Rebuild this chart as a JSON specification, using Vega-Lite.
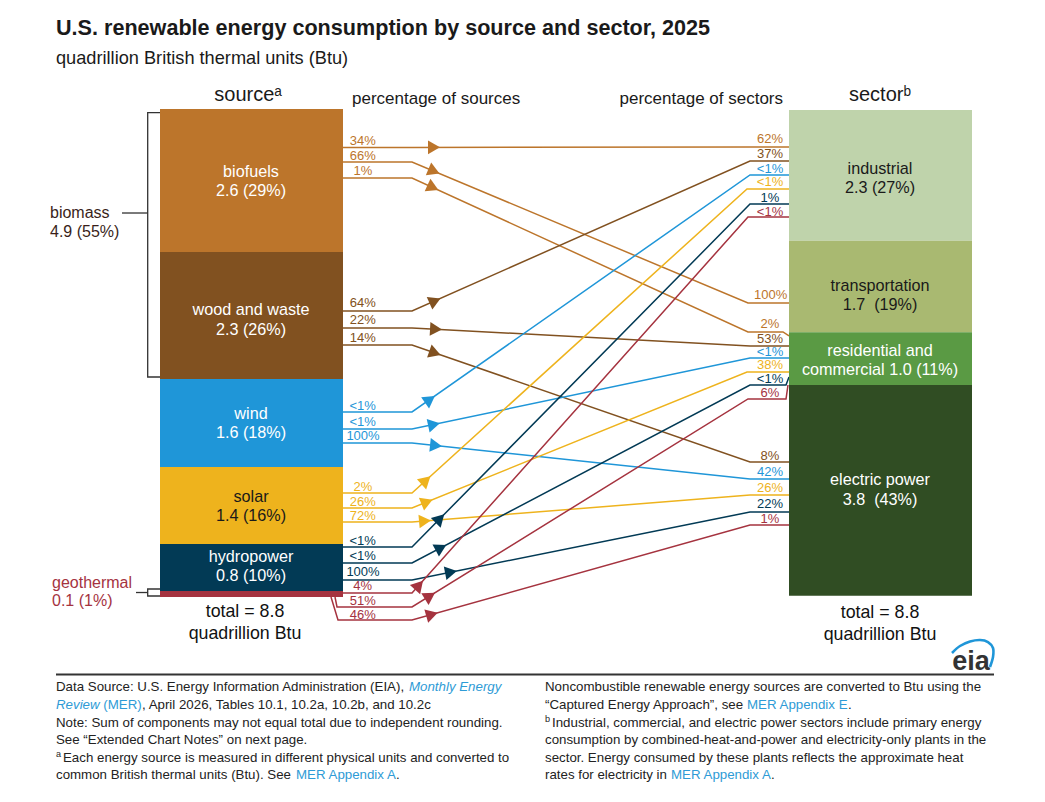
{
  "$schema": "https://vega.github.io/schema/vega-lite/v6.json",
  "description": "U.S. renewable energy consumption by source and sector, 2025. Bars and flow lines are in quadrillion Btu, measured from the top of the source bar.",
  "autosize": {"type": "none"},
  "padding": {"top": 80, "left": 0, "right": 0, "bottom": 0},
  "width": 1045,
  "height": 722,
  "background": "white",
  "title": {
    "text": "U.S. renewable energy consumption by source and sector, 2025",
    "subtitle": "quadrillion British thermal units (Btu)",
    "anchor": "start",
    "frame": "group",
    "dx": 56,
    "offset": 13,
    "fontSize": 21.6,
    "fontWeight": "bold",
    "color": "#1a1a1a",
    "subtitleFontSize": 18.2,
    "subtitleColor": "#1a1a1a",
    "subtitlePadding": 10
  },
  "config": {
    "font": "Liberation Sans",
    "view": {"stroke": null},
    "legend": {"disable": true}
  },
  "datasets": {
    "bars": [
      {"name": "biofuels", "pos": 16.0, "pos_end": 34.3, "btu": 0, "btu_end": 2.577},
      {"name": "wood and waste", "pos": 16.0, "pos_end": 34.3, "btu": 2.577, "btu_end": 4.865},
      {"name": "wind", "pos": 16.0, "pos_end": 34.3, "btu": 4.865, "btu_end": 6.45},
      {"name": "solar", "pos": 16.0, "pos_end": 34.3, "btu": 6.45, "btu_end": 7.838},
      {"name": "hydropower", "pos": 16.0, "pos_end": 34.3, "btu": 7.838, "btu_end": 8.685},
      {"name": "geothermal", "pos": 16.0, "pos_end": 34.3, "btu": 8.685, "btu_end": 8.793},
      {"name": "industrial", "pos": 78.9, "pos_end": 97.2, "btu": 0.018, "btu_end": 2.373},
      {"name": "transportation", "pos": 78.9, "pos_end": 97.2, "btu": 2.373, "btu_end": 4.024},
      {"name": "residential and commercial", "pos": 78.9, "pos_end": 97.2, "btu": 4.024, "btu_end": 4.973},
      {"name": "electric power", "pos": 78.9, "pos_end": 97.2, "btu": 4.973, "btu_end": 8.769}
    ],
    "bar_labels": [
      {"name": "biofuels", "label": "biofuels\n2.6 (29%)", "pos": 25.1, "btu": 1.135},
      {"name": "wood and waste", "label": "wood and waste\n2.3 (26%)", "pos": 25.1, "btu": 3.622},
      {"name": "wind", "label": "wind\n1.6 (18%)", "pos": 25.1, "btu": 5.495},
      {"name": "solar", "label": "solar\n1.4 (16%)", "pos": 25.1, "btu": 6.991},
      {"name": "hydropower", "label": "hydropower\n0.8 (10%)", "pos": 25.1, "btu": 8.072},
      {"name": "industrial", "label": "industrial\n2.3 (27%)", "pos": 88.0, "btu": 1.081},
      {"name": "transportation", "label": "transportation\n1.7\u00a0\u00a0(19%)", "pos": 88.0, "btu": 3.189},
      {"name": "residential and commercial", "label": "residential and\ncommercial 1.0 (11%)", "pos": 88.0, "btu": 4.36},
      {"name": "electric power", "label": "electric power\n3.8\u00a0\u00a0(43%)", "pos": 88.0, "btu": 6.685}
    ],
    "flows": [
      {"source": "biofuels", "sector": "industrial", "pos": 34.3, "btu": 0.694},
      {"source": "biofuels", "sector": "industrial", "pos": 41.2, "btu": 0.694},
      {"source": "biofuels", "sector": "industrial", "pos": 75.0, "btu": 0.685},
      {"source": "biofuels", "sector": "industrial", "pos": 78.9, "btu": 0.685},
      {"source": "biofuels", "sector": "transportation", "pos": 34.3, "btu": 0.955},
      {"source": "biofuels", "sector": "transportation", "pos": 41.2, "btu": 0.955},
      {"source": "biofuels", "sector": "transportation", "pos": 74.8, "btu": 3.495},
      {"source": "biofuels", "sector": "transportation", "pos": 78.9, "btu": 3.495},
      {"source": "biofuels", "sector": "residential", "pos": 34.3, "btu": 1.243},
      {"source": "biofuels", "sector": "residential", "pos": 41.2, "btu": 1.243},
      {"source": "biofuels", "sector": "residential", "pos": 74.8, "btu": 4.018},
      {"source": "biofuels", "sector": "residential", "pos": 78.3, "btu": 4.018},
      {"source": "biofuels", "sector": "residential", "pos": 78.9, "btu": 4.09},
      {"source": "wood and waste", "sector": "industrial", "pos": 34.3, "btu": 3.64},
      {"source": "wood and waste", "sector": "industrial", "pos": 41.2, "btu": 3.64},
      {"source": "wood and waste", "sector": "industrial", "pos": 75.0, "btu": 0.937},
      {"source": "wood and waste", "sector": "industrial", "pos": 78.9, "btu": 0.937},
      {"source": "wood and waste", "sector": "residential", "pos": 34.3, "btu": 3.946},
      {"source": "wood and waste", "sector": "residential", "pos": 41.2, "btu": 3.946},
      {"source": "wood and waste", "sector": "residential", "pos": 75.0, "btu": 4.27},
      {"source": "wood and waste", "sector": "residential", "pos": 78.9, "btu": 4.27},
      {"source": "wood and waste", "sector": "electric", "pos": 34.3, "btu": 4.252},
      {"source": "wood and waste", "sector": "electric", "pos": 41.2, "btu": 4.252},
      {"source": "wood and waste", "sector": "electric", "pos": 75.0, "btu": 6.36},
      {"source": "wood and waste", "sector": "electric", "pos": 78.9, "btu": 6.36},
      {"source": "wind", "sector": "industrial", "pos": 34.3, "btu": 5.459},
      {"source": "wind", "sector": "industrial", "pos": 41.2, "btu": 5.459},
      {"source": "wind", "sector": "industrial", "pos": 75.0, "btu": 1.189},
      {"source": "wind", "sector": "industrial", "pos": 78.9, "btu": 1.189},
      {"source": "wind", "sector": "residential", "pos": 34.3, "btu": 5.766},
      {"source": "wind", "sector": "residential", "pos": 41.2, "btu": 5.766},
      {"source": "wind", "sector": "residential", "pos": 75.0, "btu": 4.486},
      {"source": "wind", "sector": "residential", "pos": 78.9, "btu": 4.486},
      {"source": "wind", "sector": "electric", "pos": 34.3, "btu": 6.018},
      {"source": "wind", "sector": "electric", "pos": 41.2, "btu": 6.018},
      {"source": "wind", "sector": "electric", "pos": 75.0, "btu": 6.667},
      {"source": "wind", "sector": "electric", "pos": 78.9, "btu": 6.667},
      {"source": "solar", "sector": "industrial", "pos": 34.3, "btu": 6.919},
      {"source": "solar", "sector": "industrial", "pos": 41.2, "btu": 6.919},
      {"source": "solar", "sector": "industrial", "pos": 74.7, "btu": 1.441},
      {"source": "solar", "sector": "industrial", "pos": 78.9, "btu": 1.441},
      {"source": "solar", "sector": "residential", "pos": 34.3, "btu": 7.189},
      {"source": "solar", "sector": "residential", "pos": 41.2, "btu": 7.189},
      {"source": "solar", "sector": "residential", "pos": 74.7, "btu": 4.739},
      {"source": "solar", "sector": "residential", "pos": 78.9, "btu": 4.739},
      {"source": "solar", "sector": "electric", "pos": 34.3, "btu": 7.441},
      {"source": "solar", "sector": "electric", "pos": 41.2, "btu": 7.441},
      {"source": "solar", "sector": "electric", "pos": 75.0, "btu": 6.955},
      {"source": "solar", "sector": "electric", "pos": 78.9, "btu": 6.955},
      {"source": "hydropower", "sector": "industrial", "pos": 34.3, "btu": 7.892},
      {"source": "hydropower", "sector": "industrial", "pos": 41.2, "btu": 7.892},
      {"source": "hydropower", "sector": "industrial", "pos": 75.0, "btu": 1.712},
      {"source": "hydropower", "sector": "industrial", "pos": 78.9, "btu": 1.712},
      {"source": "hydropower", "sector": "residential", "pos": 34.3, "btu": 8.18},
      {"source": "hydropower", "sector": "residential", "pos": 41.2, "btu": 8.18},
      {"source": "hydropower", "sector": "residential", "pos": 75.0, "btu": 4.973},
      {"source": "hydropower", "sector": "residential", "pos": 78.6, "btu": 4.973},
      {"source": "hydropower", "sector": "residential", "pos": 78.9, "btu": 4.829},
      {"source": "hydropower", "sector": "electric", "pos": 34.3, "btu": 8.486},
      {"source": "hydropower", "sector": "electric", "pos": 41.2, "btu": 8.486},
      {"source": "hydropower", "sector": "electric", "pos": 75.0, "btu": 7.261},
      {"source": "hydropower", "sector": "electric", "pos": 78.9, "btu": 7.261},
      {"source": "geothermal", "sector": "industrial", "pos": 34.3, "btu": 8.721},
      {"source": "geothermal", "sector": "industrial", "pos": 41.2, "btu": 8.721},
      {"source": "geothermal", "sector": "industrial", "pos": 74.8, "btu": 1.946},
      {"source": "geothermal", "sector": "industrial", "pos": 78.9, "btu": 1.946},
      {"source": "geothermal", "sector": "residential", "pos": 33.5, "btu": 8.793},
      {"source": "geothermal", "sector": "residential", "pos": 33.7, "btu": 8.973},
      {"source": "geothermal", "sector": "residential", "pos": 41.2, "btu": 8.973},
      {"source": "geothermal", "sector": "residential", "pos": 74.8, "btu": 5.225},
      {"source": "geothermal", "sector": "residential", "pos": 78.6, "btu": 5.225},
      {"source": "geothermal", "sector": "residential", "pos": 78.8, "btu": 4.973},
      {"source": "geothermal", "sector": "electric", "pos": 33.1, "btu": 8.793},
      {"source": "geothermal", "sector": "electric", "pos": 33.8, "btu": 9.207},
      {"source": "geothermal", "sector": "electric", "pos": 41.2, "btu": 9.207},
      {"source": "geothermal", "sector": "electric", "pos": 75.0, "btu": 7.495},
      {"source": "geothermal", "sector": "electric", "pos": 78.9, "btu": 7.495}
    ],
    "arrows": [
      {"source": "biofuels", "sector": "industrial", "pos": 43.4, "btu": 0.69, "heading": 0},
      {"source": "biofuels", "sector": "transportation", "pos": 43.4, "btu": 1.121, "heading": 22.8},
      {"source": "biofuels", "sector": "residential", "pos": 43.3, "btu": 1.416, "heading": 24.6},
      {"source": "wood and waste", "sector": "industrial", "pos": 43.5, "btu": 3.456, "heading": 336},
      {"source": "wood and waste", "sector": "residential", "pos": 43.6, "btu": 3.969, "heading": 3},
      {"source": "wood and waste", "sector": "electric", "pos": 43.5, "btu": 4.396, "heading": 19.1},
      {"source": "wind", "sector": "industrial", "pos": 43.0, "btu": 5.232, "heading": 325},
      {"source": "wind", "sector": "residential", "pos": 43.4, "btu": 5.683, "heading": 348},
      {"source": "wind", "sector": "electric", "pos": 43.6, "btu": 6.065, "heading": 6.1},
      {"source": "solar", "sector": "industrial", "pos": 42.6, "btu": 6.69, "heading": 318},
      {"source": "solar", "sector": "residential", "pos": 42.7, "btu": 7.079, "heading": 338},
      {"source": "solar", "sector": "electric", "pos": 42.5, "btu": 7.423, "heading": 355},
      {"source": "hydropower", "sector": "industrial", "pos": 44.0, "btu": 7.38, "heading": 315},
      {"source": "hydropower", "sector": "residential", "pos": 44.1, "btu": 7.905, "heading": 332},
      {"source": "hydropower", "sector": "electric", "pos": 45.1, "btu": 8.346, "heading": 349},
      {"source": "geothermal", "sector": "industrial", "pos": 41.9, "btu": 8.58, "heading": 312},
      {"source": "geothermal", "sector": "residential", "pos": 43.0, "btu": 8.773, "heading": 328},
      {"source": "geothermal", "sector": "electric", "pos": 43.2, "btu": 9.106, "heading": 344}
    ],
    "shares": [
      {"source": "biofuels", "share": "34%", "pos": 36.27, "btu": 0.568},
      {"source": "biofuels", "share": "66%", "pos": 36.27, "btu": 0.847},
      {"source": "biofuels", "share": "1%", "pos": 36.3, "btu": 1.117},
      {"source": "wood and waste", "share": "64%", "pos": 36.27, "btu": 3.495},
      {"source": "wood and waste", "share": "22%", "pos": 36.27, "btu": 3.802},
      {"source": "wood and waste", "share": "14%", "pos": 36.27, "btu": 4.126},
      {"source": "wind", "share": "<1%", "pos": 36.27, "btu": 5.346},
      {"source": "wind", "share": "<1%", "pos": 36.27, "btu": 5.634},
      {"source": "wind", "share": "100%", "pos": 36.3, "btu": 5.892},
      {"source": "solar", "share": "2%", "pos": 36.3, "btu": 6.811},
      {"source": "solar", "share": "26%", "pos": 36.27, "btu": 7.076},
      {"source": "solar", "share": "72%", "pos": 36.27, "btu": 7.333},
      {"source": "hydropower", "share": "<1%", "pos": 36.27, "btu": 7.778},
      {"source": "hydropower", "share": "<1%", "pos": 36.27, "btu": 8.054},
      {"source": "hydropower", "share": "100%", "pos": 36.3, "btu": 8.342},
      {"source": "geothermal", "share": "4%", "pos": 36.27, "btu": 8.595},
      {"source": "geothermal", "share": "51%", "pos": 36.27, "btu": 8.868},
      {"source": "geothermal", "share": "46%", "pos": 36.27, "btu": 9.117},
      {"source": "biofuels", "share": "62%", "pos": 77.0, "btu": 0.541},
      {"source": "wood and waste", "share": "37%", "pos": 77.0, "btu": 0.811},
      {"source": "wind", "share": "<1%", "pos": 77.0, "btu": 1.081},
      {"source": "solar", "share": "<1%", "pos": 77.0, "btu": 1.315},
      {"source": "hydropower", "share": "1%", "pos": 77.0, "btu": 1.598},
      {"source": "geothermal", "share": "<1%", "pos": 77.0, "btu": 1.85},
      {"source": "biofuels", "share": "100%", "pos": 77.07, "btu": 3.357},
      {"source": "biofuels", "share": "2%", "pos": 77.0, "btu": 3.874},
      {"source": "wood and waste", "share": "53%", "pos": 77.0, "btu": 4.144},
      {"source": "wind", "share": "<1%", "pos": 77.0, "btu": 4.378},
      {"source": "solar", "share": "38%", "pos": 77.0, "btu": 4.613},
      {"source": "hydropower", "share": "<1%", "pos": 77.0, "btu": 4.865},
      {"source": "geothermal", "share": "6%", "pos": 77.0, "btu": 5.117},
      {"source": "wood and waste", "share": "8%", "pos": 77.0, "btu": 6.252},
      {"source": "wind", "share": "42%", "pos": 77.0, "btu": 6.541},
      {"source": "solar", "share": "26%", "pos": 77.0, "btu": 6.829},
      {"source": "hydropower", "share": "22%", "pos": 77.0, "btu": 7.117},
      {"source": "geothermal", "share": "1%", "pos": 77.0, "btu": 7.382}
    ],
    "brackets": [
      {"part": "biomass", "step": 1, "pos": 16.0, "btu": 0.067},
      {"part": "biomass", "step": 2, "pos": 14.77, "btu": 0.067},
      {"part": "biomass", "step": 3, "pos": 14.77, "btu": 4.829},
      {"part": "biomass", "step": 4, "pos": 16.0, "btu": 4.829},
      {"part": "biomass leader", "step": 1, "pos": 12.2, "btu": 1.874},
      {"part": "biomass leader", "step": 2, "pos": 14.77, "btu": 1.874},
      {"part": "geothermal", "step": 1, "pos": 16.0, "btu": 8.649},
      {"part": "geothermal", "step": 2, "pos": 14.77, "btu": 8.649},
      {"part": "geothermal", "step": 3, "pos": 14.77, "btu": 8.775},
      {"part": "geothermal", "step": 4, "pos": 16.0, "btu": 8.775},
      {"part": "geothermal leader", "step": 1, "pos": 13.6, "btu": 8.712},
      {"part": "geothermal leader", "step": 2, "pos": 14.77, "btu": 8.712}
    ],
    "footer_rule": [
      {"pos": 5.6, "btu": 10.189},
      {"pos": 99.4, "btu": 10.189}
    ],
    "logo_arc": [
      {"step": 1, "pos": 95.2, "btu": 9.802},
      {"step": 2, "pos": 96.0, "btu": 9.676},
      {"step": 3, "pos": 97.0, "btu": 9.595},
      {"step": 4, "pos": 98.0, "btu": 9.568},
      {"step": 5, "pos": 98.8, "btu": 9.604},
      {"step": 6, "pos": 99.3, "btu": 9.712},
      {"step": 7, "pos": 99.3, "btu": 9.874},
      {"step": 8, "pos": 99.0, "btu": 10.054}
    ],
    "heads": [
      {"label": "percentage of sources", "pos": 35.2, "btu": -0.18, "side": "source"},
      {"label": "percentage of sectors", "pos": 78.3, "btu": -0.18, "side": "sector"}
    ],
    "notes": [
      {"note": "Data Source: U.S. Energy Information Administration (EIA),", "kind": "plain", "pos": 5.6, "btu": 10.414},
      {"note": "Monthly Energy", "kind": "italic", "pos": 40.9, "btu": 10.414},
      {"note": "Review", "kind": "italic", "pos": 5.6, "btu": 10.739},
      {"note": "(MER)", "kind": "link", "pos": 10.33, "btu": 10.739},
      {"note": ", April 2026, Tables 10.1, 10.2a, 10.2b, and 10.2c", "kind": "plain", "pos": 14.2, "btu": 10.739},
      {"note": "Note: Sum of components may not equal total due to independent rounding.", "kind": "plain", "pos": 5.6, "btu": 11.063},
      {"note": "See “Extended Chart Notes” on next page.", "kind": "plain", "pos": 5.6, "btu": 11.369},
      {"note": "ᵃ", "kind": "plain", "pos": 5.6, "btu": 11.65},
      {"note": "Each energy source is measured in different physical units and converted to", "kind": "plain", "pos": 6.3, "btu": 11.694},
      {"note": "common British thermal units (Btu). See", "kind": "plain", "pos": 5.6, "btu": 12.0},
      {"note": "MER Appendix A", "kind": "link", "pos": 29.6, "btu": 12.0},
      {"note": ".", "kind": "plain", "pos": 39.6, "btu": 12.0},
      {"note": "Noncombustible renewable energy sources are converted to Btu using the", "kind": "plain", "pos": 54.5, "btu": 10.414},
      {"note": "“Captured Energy Approach”, see", "kind": "plain", "pos": 54.5, "btu": 10.739},
      {"note": "MER Appendix E", "kind": "link", "pos": 74.7, "btu": 10.739},
      {"note": ".", "kind": "plain", "pos": 84.8, "btu": 10.739},
      {"note": "ᵇ", "kind": "plain", "pos": 54.5, "btu": 11.02},
      {"note": "Industrial, commercial, and electric power sectors include primary energy", "kind": "plain", "pos": 55.2, "btu": 11.063},
      {"note": "consumption by combined-heat-and-power and electricity-only plants in the", "kind": "plain", "pos": 54.5, "btu": 11.369},
      {"note": "sector. Energy consumed by these plants reflects the approximate heat", "kind": "plain", "pos": 54.5, "btu": 11.694},
      {"note": "rates for electricity in", "kind": "plain", "pos": 54.5, "btu": 12.0},
      {"note": "MER Appendix A", "kind": "link", "pos": 67.1, "btu": 12.0},
      {"note": ".", "kind": "plain", "pos": 77.1, "btu": 12.0}
    ]
  },
  "encoding": {
    "x": {"field": "pos", "type": "quantitative", "axis": null, "scale": {"domain": [0, 104.5], "nice": false, "zero": false}},
    "y": {"field": "btu", "type": "quantitative", "axis": null, "scale": {"domain": [-0.5225, 12.4865], "reverse": true, "nice": false, "zero": false}}
  },
  "layer": [
    {
      "data": {"name": "flows"},
      "mark": {"type": "line", "strokeWidth": 1.5, "clip": false},
      "encoding": {
        "detail": [{"field": "source"}, {"field": "sector"}],
        "color": {
          "field": "source",
          "type": "nominal",
          "scale": {
            "domain": ["biofuels", "wood and waste", "wind", "solar", "hydropower", "geothermal", "industrial", "transportation", "residential and commercial", "electric power"],
            "range": ["#BC752B", "#815120", "#1F96D8", "#EEB31D", "#023A55", "#A5333F", "#BFD3AB", "#A9B971", "#5A9A44", "#304D23"]
          }
        }
      }
    },
    {
      "data": {"name": "arrows"},
      "mark": {"type": "point", "shape": "triangle-right", "filled": true, "size": 190, "opacity": 1},
      "encoding": {
        "color": {"field": "source", "type": "nominal"},
        "angle": {"field": "heading", "type": "quantitative", "scale": null}
      }
    },
    {
      "data": {"name": "bars"},
      "mark": {"type": "rect"},
      "encoding": {
        "x2": {"field": "pos_end"},
        "y2": {"field": "btu_end"},
        "color": {"field": "name", "type": "nominal"}
      }
    },
    {
      "data": {"name": "brackets"},
      "mark": {"type": "line", "color": "#333333", "strokeWidth": 1.3},
      "encoding": {
        "detail": {"field": "part"},
        "order": {"field": "step"}
      }
    },
    {
      "data": {"name": "footer_rule"},
      "mark": {"type": "line", "color": "#333333", "strokeWidth": 2}
    },
    {
      "data": {"name": "logo_arc"},
      "mark": {"type": "line", "color": "#1F96D8", "strokeWidth": 2.6, "interpolate": "cardinal"},
      "encoding": {"order": {"field": "step"}}
    },
    {
      "data": {"values": [{"label": "eia", "pos": 97.1, "btu": 9.964}]},
      "mark": {"type": "text", "fontSize": 27, "fontWeight": "bold", "color": "#333333", "baseline": "middle"},
      "encoding": {"text": {"field": "label"}}
    },
    {
      "data": {"name": "bar_labels"},
      "mark": {"type": "text", "fontSize": 16.2, "lineBreak": "\n", "lineHeight": 19.5, "baseline": "middle"},
      "encoding": {
        "text": {"field": "label"},
        "color": {
          "condition": {"test": "indexof(['solar', 'industrial', 'transportation'], datum.name) >= 0", "value": "#1a1a1a"},
          "value": "#ffffff"
        }
      }
    },
    {
      "data": {"name": "shares"},
      "mark": {"type": "text", "fontSize": 13, "baseline": "middle"},
      "encoding": {
        "text": {"field": "share"},
        "color": {"field": "source", "type": "nominal"}
      }
    },
    {
      "data": {"name": "heads"},
      "transform": [{"filter": "datum.side === 'source'"}],
      "mark": {"type": "text", "fontSize": 17, "align": "left", "baseline": "middle", "color": "#1a1a1a"},
      "encoding": {"text": {"field": "label"}}
    },
    {
      "data": {"name": "heads"},
      "transform": [{"filter": "datum.side === 'sector'"}],
      "mark": {"type": "text", "fontSize": 17, "align": "right", "baseline": "middle", "color": "#1a1a1a"},
      "encoding": {"text": {"field": "label"}}
    },
    {
      "data": {"values": [
        {"label": "sourceᵃ", "pos": 24.8, "btu": -0.26},
        {"label": "sectorᵇ", "pos": 88.0, "btu": -0.26}
      ]},
      "mark": {"type": "text", "fontSize": 20, "baseline": "middle", "color": "#1a1a1a"},
      "encoding": {"text": {"field": "label"}}
    },
    {
      "data": {"values": [
        {"label": "total = 8.8\nquadrillion Btu", "pos": 24.5, "btu": 9.063},
        {"label": "total = 8.8\nquadrillion Btu", "pos": 88.0, "btu": 9.081}
      ]},
      "mark": {"type": "text", "fontSize": 17.8, "lineBreak": "\n", "lineHeight": 22, "baseline": "middle", "color": "#111111"},
      "encoding": {"text": {"field": "label"}}
    },
    {
      "data": {"values": [
        {"label": "biomass\n4.9 (55%)", "pos": 5.0, "btu": 1.874}
      ]},
      "mark": {"type": "text", "fontSize": 16, "lineBreak": "\n", "lineHeight": 19, "align": "left", "baseline": "middle", "color": "#3a1f1a"},
      "encoding": {"text": {"field": "label"}}
    },
    {
      "data": {"values": [
        {"label": "geothermal\n0.1 (1%)", "pos": 5.2, "btu": 8.541}
      ]},
      "mark": {"type": "text", "fontSize": 16, "lineBreak": "\n", "lineHeight": 18, "align": "left", "baseline": "middle", "color": "#A5333F"},
      "encoding": {"text": {"field": "label"}}
    },
    {
      "data": {"name": "notes"},
      "transform": [{"filter": "datum.kind !== 'italic'"}],
      "mark": {"type": "text", "fontSize": 13.3, "align": "left", "baseline": "middle"},
      "encoding": {
        "text": {"field": "note"},
        "color": {
          "condition": {"test": "datum.kind === 'link'", "value": "#2E9BD6"},
          "value": "#222222"
        }
      }
    },
    {
      "data": {"name": "notes"},
      "transform": [{"filter": "datum.kind === 'italic'"}],
      "mark": {"type": "text", "fontSize": 13.3, "fontStyle": "italic", "align": "left", "baseline": "middle", "color": "#2E9BD6"},
      "encoding": {"text": {"field": "note"}}
    }
  ]
}
